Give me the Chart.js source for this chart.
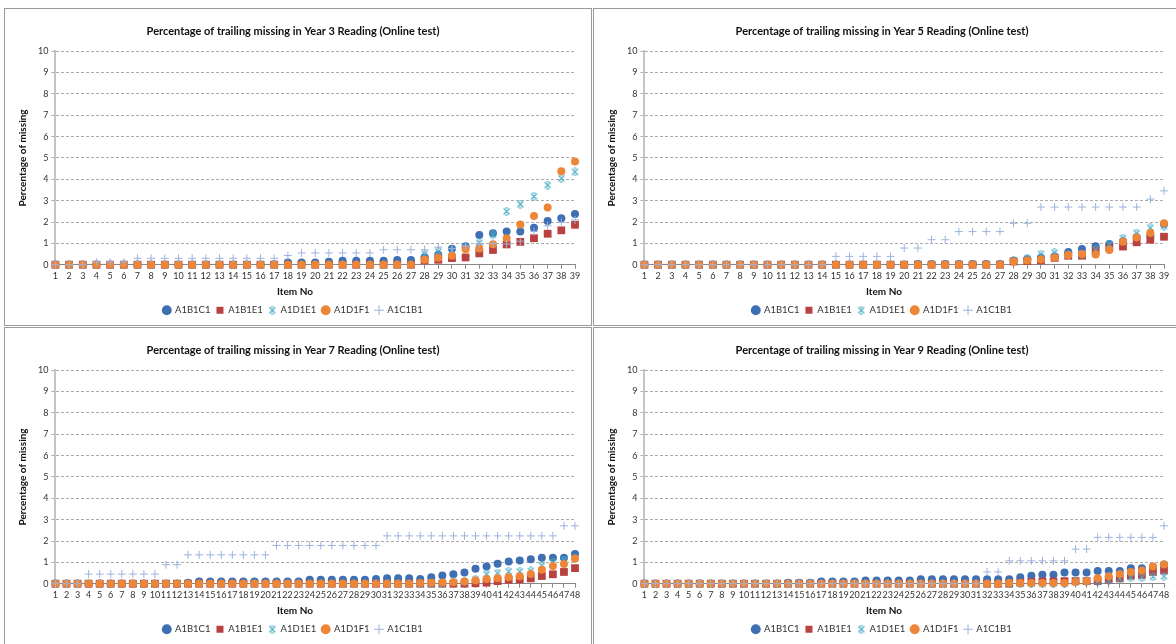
<!DOCTYPE html>
<html>
<head>
<meta charset="utf-8">
<script src="https://cdn.jsdelivr.net/npm/chart.js@4.4.1/dist/chart.umd.min.js"></script>
<style>
  html, body { margin: 0; padding: 0; background: #fff; overflow: hidden; }
  body { width: 1176px; height: 644px; position: relative; }
  .panel { position: absolute; width: 586px; height: 316px; border: 1px solid #9a9a9a; background: #fff; }
  .panel canvas { position: absolute; left: 0; top: 0; }
</style>
</head>
<body>
<div class="panel" style="left:4px;top:8px"><canvas id="chart_y3" width="586" height="316"></canvas></div>
<div class="panel" style="left:593px;top:8px"><canvas id="chart_y5" width="586" height="316"></canvas></div>
<div class="panel" style="left:4px;top:327px"><canvas id="chart_y7" width="586" height="316"></canvas></div>
<div class="panel" style="left:593px;top:327px"><canvas id="chart_y9" width="586" height="316"></canvas></div>
<script>
// item numbers
const items39 = [1,2,3,4,5,6,7,8,9,10,11,12,13,14,15,16,17,18,19,20,21,22,23,24,25,26,27,28,29,30,31,32,33,34,35,36,37,38,39];
const items48 = [1,2,3,4,5,6,7,8,9,10,11,12,13,14,15,16,17,18,19,20,21,22,23,24,25,26,27,28,29,30,31,32,33,34,35,36,37,38,39,40,41,42,43,44,45,46,47,48];
const seriesNames = ['A1B1C1', 'A1B1E1', 'A1D1E1', 'A1D1F1', 'A1C1B1'];
const yTicks = [0,1,2,3,4,5,6,7,8,9,10];

// Year 3
const y3_A1B1C1 = [0,0,0,0,0,0,0,0,0,0, 0,0,0,0,0,0,0.02,0.1,0.1,0.1, 0.14,0.18,0.18,0.18,0.18,0.22,0.22,0.35,0.47,0.75, 0.86,1.39,1.47,1.56,1.55,1.73,2.05,2.17,2.38];
const y3_A1B1E1 = [0,0,0,0,0,0,0,0,0,0, 0,0,0,0,0,0,0,0,0,0, 0,0,0,0,0,0,0,0.2,0.23,0.31, 0.34,0.53,0.69,0.95,1.07,1.24,1.45,1.61,1.87];
const y3_A1D1E1 = [0,0,0,0,0,0,0,0,0,0, 0,0,0,0,0,0,0,0,0,0, 0,0,0,0,0,0,0,0.5,0.62,0.65, 0.82,1.02,1.4,2.5,2.83,3.2,3.73,4.05,4.35];
const y3_A1D1F1 = [0,0,0,0,0,0,0,0,0,0, 0,0,0,0,0,0,0,0,0,0, 0,0,0,0,0,0,0,0.23,0.32,0.42, 0.72,0.76,0.96,1.24,1.88,2.28,2.68,4.38,4.83];
const y3_A1C1B1 = [0,0,0,0.12,0.12,0.12,0.3,0.3,0.3,0.3, 0.3,0.3,0.3,0.3,0.3,0.3,0.3,0.43,0.55,0.55, 0.55,0.55,0.55,0.55,0.7,0.7,0.7,0.7,0.82,0.75, 0.88,0.95,1.0,0.97,1.1,1.55,1.82,1.98,2.1];

// Year 5
const y5_A1B1C1 = [0,0,0,0,0,0,0,0,0,0, 0,0,0,0,0,0,0,0,0,0, 0.03,0.03,0.03,0.03,0.03,0.03,0.03,0.18,0.26,0.32, 0.38,0.6,0.73,0.86,0.97,1.1,1.28,1.38,1.9];
const y5_A1B1E1 = [0,0,0,0,0,0,0,0,0,0, 0,0,0,0,0,0,0,0,0,0, 0,0,0,0,0,0,0,0.15,0.17,0.2, 0.32,0.42,0.42,0.65,0.8,0.85,1.05,1.17,1.31];
const y5_A1D1E1 = [0,0,0,0,0,0,0,0,0,0, 0,0,0,0,0,0,0,0,0,0, 0,0,0,0,0,0,0,0.2,0.3,0.5, 0.56,0.5,0.5,0.7,0.95,1.25,1.48,1.73,1.8];
const y5_A1D1F1 = [0,0,0,0,0,0,0,0,0,0, 0,0,0,0,0,0,0,0,0,0, 0,0,0,0,0,0,0,0.15,0.2,0.24, 0.33,0.45,0.5,0.48,0.69,1.07,1.27,1.48,1.94];
const y5_A1C1B1 = [0,0,0,0,0,0,0,0,0,0, 0,0,0,0,0.39,0.39,0.39,0.39,0.39,0.78, 0.78,1.17,1.17,1.55,1.55,1.55,1.55,1.94,1.94,2.7, 2.7,2.7,2.7,2.7,2.7,2.7,2.7,3.07,3.46];

// Year 7
const y7_A1B1C1 = [0,0,0,0,0,0,0,0,0,0, 0,0,0.05,0.1,0.1,0.1,0.1,0.1,0.1,0.1, 0.1,0.1,0.1,0.18,0.18,0.18,0.18,0.18,0.18,0.22, 0.25,0.25,0.25,0.22,0.3,0.38,0.44,0.53,0.7,0.81, 0.93,1.04,1.09,1.14,1.21,1.21,1.21,1.39];
const y7_A1B1E1 = [0,0,0,0,0,0,0,0,0,0, 0,0,0,0,0,0,0,0,0,0, 0,0,0,0,0,0,0,0,0,0, 0,0,0,0,0,0,0,0,0.02,0.05, 0.12,0.18,0.2,0.25,0.36,0.44,0.55,0.73];
const y7_A1D1E1 = [0,0,0,0,0,0,0,0,0,0, 0,0,0,0,0,0,0,0,0,0, 0,0,0,0,0,0,0,0,0,0, 0,0,0,0,0,0,0.08,0.1,0.2,0.45, 0.5,0.57,0.57,0.6,0.86,1.0,1.1,1.2];
const y7_A1D1F1 = [0,0,0,0,0,0,0,0,0,0, 0,0,0,0,0,0,0,0,0,0, 0,0,0,0,0,0,0,0,0,0, 0,0,0,0.03,0.05,0.06,0.07,0.1,0.15,0.22, 0.25,0.3,0.35,0.45,0.65,0.83,0.92,1.18];
const y7_A1C1B1 = [0,0,0,0.45,0.45,0.45,0.45,0.45,0.45,0.45, 0.89,0.89,1.35,1.35,1.35,1.35,1.35,1.35,1.35,1.35, 1.79,1.79,1.79,1.79,1.79,1.79,1.79,1.79,1.79,1.79, 2.24,2.24,2.24,2.24,2.24,2.24,2.24,2.24,2.24,2.24, 2.24,2.24,2.24,2.24,2.24,2.24,2.71,2.71];

// Year 9
const y9_A1B1C1 = [0,0,0,0,0,0,0,0,0,0, 0,0,0,0.05,0.05,0.05,0.1,0.1,0.1,0.1, 0.15,0.15,0.15,0.15,0.15,0.21,0.21,0.21,0.21,0.21, 0.21,0.21,0.21,0.21,0.3,0.37,0.42,0.42,0.53,0.53, 0.53,0.6,0.6,0.6,0.72,0.72,0.78,0.9];
const y9_A1B1E1 = [0,0,0,0,0,0,0,0,0,0, 0,0,0,0,0,0,0,0,0,0, 0,0,0,0,0,0,0,0,0,0, 0,0,0,0,0.05,0.08,0.1,0.1,0.12,0.12, 0.12,0.12,0.18,0.25,0.38,0.42,0.55,0.62];
const y9_A1D1E1 = [0,0,0,0,0,0,0,0,0,0, 0,0,0,0,0,0,0,0,0,0, 0,0,0,0,0,0,0,0,0,0, 0,0,0,0,0,0,0,0,0,0.08, 0.1,0.1,0.15,0.25,0.3,0.3,0.33,0.35];
const y9_A1D1F1 = [0,0,0,0,0,0,0,0,0,0, 0,0,0,0,0,0,0,0,0,0, 0,0,0,0,0,0,0,0,0,0, 0,0,0,0.03,0.03,0.03,0.03,0.03,0.03,0.08, 0.12,0.25,0.35,0.45,0.55,0.62,0.8,0.9];
const y9_A1C1B1 = [0,0,0,0,0,0,0,0,0,0, 0,0,0,0,0,0,0,0,0,0, 0,0,0,0,0,0,0,0,0,0, 0,0.55,0.55,1.07,1.07,1.07,1.07,1.07,1.07,1.62, 1.62,2.17,2.17,2.17,2.17,2.17,2.17,2.71];

const colBlue = '#3F6FB3';
const colRed = '#B9413F';
const colCyan = '#4BACC6';
const colOrange = '#EE8638';
const colPlus = '#9DB3DE';

Chart.defaults.font.family = 'Lato, "Open Sans", sans-serif';
Chart.defaults.color = '#333';

// star-ish marker like the excel one (x with short bars)
function starMarker() {
    const c = document.createElement('canvas');
    c.width = 9; c.height = 9;
    const g = c.getContext('2d');
    g.strokeStyle = colCyan;
    g.lineWidth = 1.2;
    g.beginPath();
    g.moveTo(1.5, 1.5); g.lineTo(7.5, 7.5);
    g.moveTo(7.5, 1.5); g.lineTo(1.5, 7.5);
    g.moveTo(3, 1); g.lineTo(6, 1);
    g.moveTo(3, 8); g.lineTo(6, 8);
    g.stroke();
    return c;
}
const starImg = starMarker();

// the x title sits in the middle of the panel, not of the plot
const itemNoTitle = {
    id: 'itemNoTitle',
    afterDraw(chart) {
        const xs = chart.scales.x;
        const ctx = chart.ctx;
        ctx.save();
        ctx.font = 'bold 10px Lato, "Open Sans", sans-serif';
        ctx.fillStyle = '#111';
        ctx.textAlign = 'center';
        ctx.textBaseline = 'middle';
        ctx.fillText('Item No', chart.width / 2 - 3, xs.bottom - 8);
        ctx.restore();
    }
};

function makeChart(id, title, labels, s1, s2, s3, s4, s5) {
    return new Chart(document.getElementById(id), {
        type: 'line',
        data: {
            labels: labels,
            datasets: [{
                label: seriesNames[0], data: s1, order: 5,
                pointStyle: 'circle', pointRadius: 4, pointBorderWidth: 0,
                backgroundColor: colBlue, borderColor: colBlue
            }, {
                label: seriesNames[1], data: s2, order: 4,
                pointStyle: 'rect', pointRadius: 5.5, pointBorderWidth: 0,
                backgroundColor: colRed, borderColor: colRed
            }, {
                label: seriesNames[2], data: s3, order: 3,
                pointStyle: starImg, pointRadius: 4,
                backgroundColor: colCyan, borderColor: colCyan
            }, {
                label: seriesNames[3], data: s4, order: 2,
                pointStyle: 'circle', pointRadius: 4, pointBorderWidth: 0,
                backgroundColor: colOrange, borderColor: colOrange
            }, {
                label: seriesNames[4], data: s5, order: 1,
                pointStyle: 'cross', pointRadius: 4, pointBorderWidth: 1,
                backgroundColor: colPlus, borderColor: colPlus
            }].map(d => Object.assign(d, { showLine: false, clip: false, pointHoverRadius: d.pointRadius }))
        },
        options: {
            responsive: false,
            animation: false,
            layout: { padding: { left: 6, right: 16, top: 0, bottom: 0 } },
            scales: {
                x: {
                    offset: false,
                    grid: { drawOnChartArea: false, drawTicks: true, tickLength: 4, color: '#888' },
                    border: { color: '#888', width: 1 },
                    ticks: { autoSkip: false, maxRotation: 0, minRotation: 0, padding: 2, font: { size: 9 }, color: '#333' },
                    title: { display: true, text: 'Item No', font: { size: 10, weight: 'bold' }, color: 'rgba(0,0,0,0)', padding: { top: 2, bottom: 2 } }
                },
                y: {
                    min: 0,
                    max: 10,
                    afterBuildTicks: function(axis) {
                        axis.ticks = yTicks.map(v => ({ value: v }));
                    },
                    grid: { color: '#ababab', tickLength: 4 },
                    border: { color: '#c4c4c4', width: 2, dash: [3, 2] },
                    ticks: { padding: 3, font: { size: 9 }, color: '#333' },
                    title: { display: true, text: 'Percentage of missing', font: { size: 10, weight: 'bold' }, color: '#111', padding: { top: 6, bottom: 6 } }
                }
            },
            plugins: {
                title: {
                    display: true,
                    text: title,
                    color: '#111',
                    font: { size: 11, weight: 'bold' },
                    padding: { top: 16, bottom: 13 }
                },
                legend: {
                    position: 'bottom',
                    labels: {
                        usePointStyle: true,
                        boxWidth: 7,
                        boxHeight: 7,
                        padding: 6,
                        font: { size: 9.5 },
                        color: '#333',
                        sort: (a, b) => a.datasetIndex - b.datasetIndex
                    }
                },
                tooltip: { enabled: false }
            }
        },
        plugins: [itemNoTitle]
    });
}

makeChart('chart_y3', 'Percentage of trailing missing in Year 3 Reading (Online test)', items39,
    y3_A1B1C1, y3_A1B1E1, y3_A1D1E1, y3_A1D1F1, y3_A1C1B1);
makeChart('chart_y5', 'Percentage of trailing missing in Year 5 Reading (Online test)', items39,
    y5_A1B1C1, y5_A1B1E1, y5_A1D1E1, y5_A1D1F1, y5_A1C1B1);
makeChart('chart_y7', 'Percentage of trailing missing in Year 7 Reading (Online test)', items48,
    y7_A1B1C1, y7_A1B1E1, y7_A1D1E1, y7_A1D1F1, y7_A1C1B1);
makeChart('chart_y9', 'Percentage of trailing missing in Year 9 Reading (Online test)', items48,
    y9_A1B1C1, y9_A1B1E1, y9_A1D1E1, y9_A1D1F1, y9_A1C1B1);
</script>
</body>
</html>
